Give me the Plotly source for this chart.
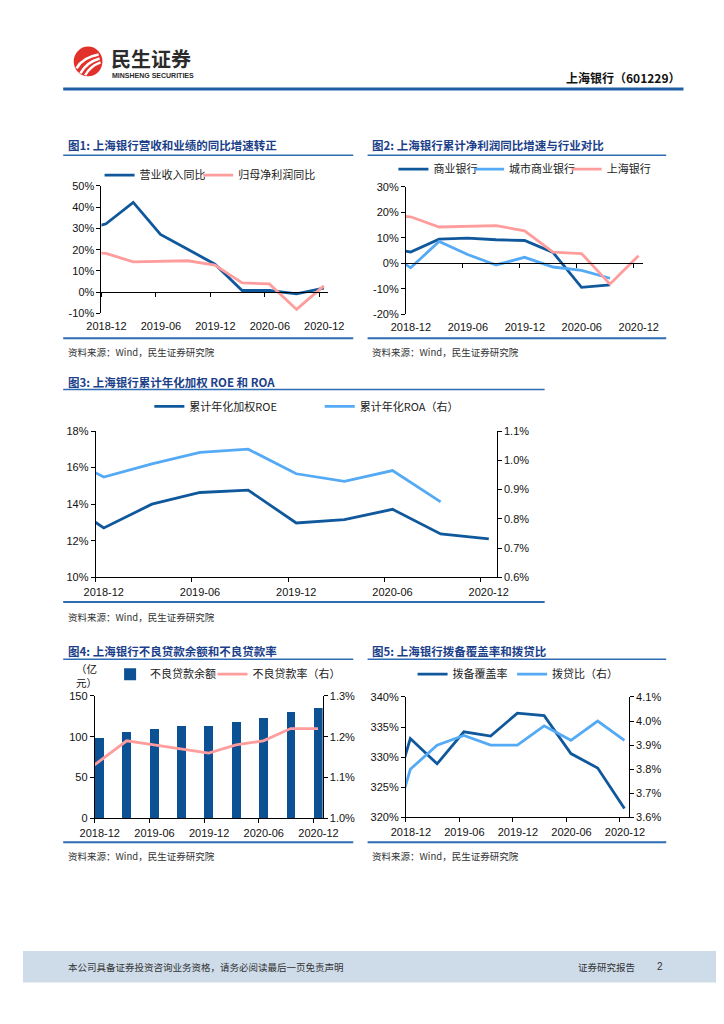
import plotly.graph_objects as go

W, H = 724, 1024
def fx(x): return x / W
def fy(y): return 1 - y / H

# ---------------- data ----------------
quarters = ["2018-09", "2018-12", "2019-03", "2019-06", "2019-09", "2019-12",
            "2020-03", "2020-06", "2020-09", "2020-12"]
tick_labels = ["2018-12", "2019-06", "2019-12", "2020-06", "2020-12"]

# 图1 (%)
rev_yoy = [28.6, 32.2, 42.3, 27.2, 20.2, 13.2, 0.8, 0.8, -0.8, 1.9]
np_yoy = [18.9, 18.3, 14.3, 14.5, 14.8, 12.8, 4.4, 3.9, -8.1, 3.0]
# 图2 (%)
cb_yoy = [6.3, 4.5, 9.5, 9.9, 9.3, 9.0, 4.3, -9.4, -8.4, None]
city_yoy = [6.1, -1.7, 8.6, 3.5, -0.6, 2.4, -1.4, -2.7, -5.8, None]
# 图3 (%)
roe = [14.5, 12.7, 14.0, 14.64, 14.77, 12.97, 13.15, 13.72, 12.37, 12.1]
roa = [1.027, 0.943, 0.988, 1.027, 1.038, 0.954, 0.928, 0.965, 0.858, None]
# 图4
npl_quarters = quarters[1:]
npl_balance = [98, 106, 110, 113, 113.5, 118, 123, 131, 135]
npl_ratio = [1.09, 1.14, 1.19, 1.18, 1.17, 1.16, 1.18, 1.19, 1.22, 1.22]
# 图5
coverage = [318.1, 333.1, 328.9, 334.2, 333.5, 337.3, 336.9, 330.6, 328.2, 321.5]
ldr = [3.42, 3.80, 3.90, 3.94, 3.90, 3.90, 3.98, 3.92, 4.00, 3.92]

# ---------------- style ----------------
DARK = "#10589C"
LIGHT = "#55AAF5"
PINK = "#FF9D9D"
TITLE = "#1C3F8A"
RULE = "#2E6CB3"
CJK = "Noto Sans CJK SC"
LAT = "Liberation Sans"
AX_FONT = dict(family=LAT, size=11, color="#111")
LW = 2.8


def month_pos(q):
    y, m = map(int, q.split("-"))
    return (y - 2018) * 12 + (m - 12) + 0.5


xq = [month_pos(q) for q in quarters]
xq_npl = [month_pos(q) for q in npl_quarters]
tick_pos = [month_pos(t) - 0.5 for t in tick_labels]


def ticks(lo, hi, step, fmt):
    n = int(round((hi - lo) / step))
    vals = [round(lo + step * i, 4) for i in range(n + 1)]
    return vals, [fmt(v) for v in vals]


def xcfg(x0, x1, anchor, line=True):
    slot = (x1 - x0) / 25
    d = dict(domain=[fx(x0), fx(x1)], range=[0, 25], anchor=anchor,
             tickmode="array", tickvals=tick_pos, ticktext=tick_labels,
             ticks="outside" if line else "", ticklen=4, tickcolor="#000",
             showline=line, linecolor="#000", linewidth=1,
             showgrid=False, zeroline=False, tickfont=AX_FONT,
             ticklabelshift=int(round(slot / 2)), fixedrange=True)
    if not line:
        d["ticklabelstandoff"] = 5
    return d


def ycfg(ytop, ybot, anchor, rng, tk, side="left", overlaying=None):
    d = dict(domain=[fy(ybot), fy(ytop)], range=rng, anchor=anchor, side=side,
             tickmode="array", tickvals=tk[0], ticktext=tk[1],
             ticks="outside", ticklen=4, tickcolor="#000",
             showline=True, linecolor="#000", linewidth=1,
             showgrid=False, zeroline=False, tickfont=AX_FONT, fixedrange=True)
    if overlaying:
        d["overlaying"] = overlaying
    return d


def zero_pos(ytop, ybot, rng):
    lo, hi = rng
    return fy(ybot) + (0 - lo) / (hi - lo) * (fy(ytop) - fy(ybot))


def leg(text_x, y):
    return dict(x=fx(text_x - 40), y=fy(y), xanchor="left", yanchor="middle",
                orientation="h", bgcolor="rgba(0,0,0,0)", borderwidth=0,
                font=dict(family=CJK, size=11, color="#222"), itemwidth=30)


pct0 = lambda v: f"{v:.0f}%"
pct1 = lambda v: f"{v:.1f}%"

# panel geometry (pixels)
P1 = dict(x0=82, x1=319, yt=174, yb=303, rng=[-10, 50])
P2 = dict(x0=400, x1=648, yt=175, yb=304, rng=[-20, 30])
P3 = dict(x0=76, x1=495, yt=422, yb=570)
P4 = dict(x0=75, x1=313, yt=690, yb=814)
P5 = dict(x0=400, x1=633, yt=691, yb=813)

fig = go.Figure()

# chart 1
fig.add_trace(go.Scatter(x=xq, y=rev_yoy, mode="lines", name="营业收入同比",
                         line=dict(color=DARK, width=LW), xaxis="x", yaxis="y", legend="legend"))
fig.add_trace(go.Scatter(x=xq, y=np_yoy, mode="lines", name="归母净利润同比",
                         line=dict(color=PINK, width=LW), xaxis="x", yaxis="y", legend="legend2"))
fig.add_trace(go.Scatter(x=[], y=[], xaxis="x6", yaxis="y", showlegend=False, hoverinfo="skip"))
# chart 2
fig.add_trace(go.Scatter(x=xq, y=cb_yoy, mode="lines", name="商业银行",
                         line=dict(color=DARK, width=LW), xaxis="x2", yaxis="y2", legend="legend3"))
fig.add_trace(go.Scatter(x=xq, y=city_yoy, mode="lines", name="城市商业银行",
                         line=dict(color=LIGHT, width=LW), xaxis="x2", yaxis="y2", legend="legend4"))
fig.add_trace(go.Scatter(x=xq, y=np_yoy, mode="lines", name="上海银行",
                         line=dict(color=PINK, width=LW), xaxis="x2", yaxis="y2", legend="legend5"))
fig.add_trace(go.Scatter(x=[], y=[], xaxis="x7", yaxis="y2", showlegend=False, hoverinfo="skip"))
# chart 3
fig.add_trace(go.Scatter(x=xq, y=roe, mode="lines", name="累计年化加权ROE",
                         line=dict(color=DARK, width=LW), xaxis="x3", yaxis="y3", legend="legend6"))
fig.add_trace(go.Scatter(x=xq, y=roa, mode="lines", name="累计年化ROA（右）",
                         line=dict(color=LIGHT, width=LW), xaxis="x3", yaxis="y4", legend="legend7"))
# chart 4
fig.add_trace(go.Bar(x=xq_npl, y=npl_balance, name="不良贷款余额", width=0.97,
                     marker=dict(color="#0C5193", line=dict(width=0)),
                     xaxis="x4", yaxis="y5", legend="legend8"))
fig.add_trace(go.Scatter(x=xq, y=npl_ratio, mode="lines", name="不良贷款率（右）",
                         line=dict(color=PINK, width=LW), xaxis="x4", yaxis="y6", legend="legend9"))
# chart 5
fig.add_trace(go.Scatter(x=xq, y=coverage, mode="lines", name="拨备覆盖率",
                         line=dict(color=DARK, width=LW), xaxis="x5", yaxis="y7", legend="legend10"))
fig.add_trace(go.Scatter(x=xq, y=ldr, mode="lines", name="拨贷比（右）",
                         line=dict(color=LIGHT, width=LW), xaxis="x5", yaxis="y8", legend="legend11"))

layout = dict(width=W, height=H, margin=dict(l=0, r=0, t=0, b=0),
              paper_bgcolor="white", plot_bgcolor="rgba(0,0,0,0)", showlegend=True,
              hovermode=False, bargap=0)

# axes chart 1
layout["xaxis"] = xcfg(P1["x0"], P1["x1"], "y", line=False)
layout["yaxis"] = ycfg(P1["yt"], P1["yb"], "x", P1["rng"], ticks(-10, 50, 10, pct0))
z1 = xcfg(P1["x0"], P1["x1"], "free")
z1.update(overlaying="x", position=zero_pos(P1["yt"], P1["yb"], P1["rng"]), showticklabels=False)
layout["xaxis6"] = z1
# chart 2
layout["xaxis2"] = xcfg(P2["x0"], P2["x1"], "y2", line=False)
layout["yaxis2"] = ycfg(P2["yt"], P2["yb"], "x2", P2["rng"], ticks(-20, 30, 10, pct0))
z2 = xcfg(P2["x0"], P2["x1"], "free")
z2.update(overlaying="x2", position=zero_pos(P2["yt"], P2["yb"], P2["rng"]), showticklabels=False)
layout["xaxis7"] = z2
# chart 3
layout["xaxis3"] = xcfg(P3["x0"], P3["x1"], "y3")
layout["yaxis3"] = ycfg(P3["yt"], P3["yb"], "x3", [10, 18], ticks(10, 18, 2, pct0))
layout["yaxis4"] = ycfg(P3["yt"], P3["yb"], "x3", [0.6, 1.1], ticks(0.6, 1.1, 0.1, pct1),
                        side="right", overlaying="y3")
# chart 4
layout["xaxis4"] = xcfg(P4["x0"], P4["x1"], "y5")
layout["yaxis5"] = ycfg(P4["yt"], P4["yb"], "x4", [0, 150], ticks(0, 150, 50, lambda v: f"{v:.0f}"))
layout["yaxis6"] = ycfg(P4["yt"], P4["yb"], "x4", [1.0, 1.3], ticks(1.0, 1.3, 0.1, pct1),
                        side="right", overlaying="y5")
# chart 5
layout["xaxis5"] = xcfg(P5["x0"], P5["x1"], "y7")
layout["yaxis7"] = ycfg(P5["yt"], P5["yb"], "x5", [320, 340], ticks(320, 340, 5, pct0))
layout["yaxis8"] = ycfg(P5["yt"], P5["yb"], "x5", [3.6, 4.1], ticks(3.6, 4.1, 0.1, pct1),
                        side="right", overlaying="y7")

# legends
leg_pos = {"legend": (120, 163), "legend2": (223, 163),
           "legend3": (427, 157), "legend4": (506, 157), "legend5": (608, 157),
           "legend6": (172, 397), "legend7": (350, 397),
           "legend8": (131, 668), "legend9": (238, 668),
           "legend10": (447, 668), "legend11": (551, 668)}
for k, (tx, ty) in leg_pos.items():
    layout[k] = leg(tx, ty)

fig.update_layout(**layout)

# ---------------- page decorations ----------------
shapes = []


def hline(x0, x1, y, color=RULE, width=1.5):
    shapes.append(dict(type="line", xref="paper", yref="paper", x0=fx(x0), x1=fx(x1),
                       y0=fy(y), y1=fy(y), line=dict(color=color, width=width)))


hline(42, 690, 76, color="#1F5DA6", width=3)
for (a, b, t, bt) in [(42, 345, 143, 328), (360, 672, 143, 328), (42, 545, 380, 595),
                      (42, 345, 653, 838), (360, 672, 653, 838)]:
    hline(a, b, t)
    hline(a, b, bt, width=2)

# footer band
shapes.append(dict(type="rect", xref="paper", yref="paper", x0=0, x1=1, y0=fy(980), y1=fy(948),
                   fillcolor="#CEDCEA", line=dict(width=0), layer="below"))
# logo
shapes.append(dict(type="circle", xref="paper", yref="paper", x0=fx(53), x1=fx(83),
                   y0=fy(63), y1=fy(33), fillcolor="#E2312A", line=dict(width=0)))


def P(x, y):
    return f"{fx(x):.5f},{fy(y):.5f}"


for (sx, sy, cx, cy, ex, ey) in [(56, 55, 62, 44, 79, 41), (60, 60, 66, 49, 80, 45),
                                 (65, 62, 70, 53, 81, 49)]:
    shapes.append(dict(type="path", xref="paper", yref="paper",
                       path=f"M{P(sx, sy)} Q{P(cx, cy)} {P(ex, ey)}",
                       line=dict(color="white", width=2.5)))

fig.update_layout(shapes=shapes)

ann = []


def text(x, y, s, size, color="#222", bold=False, family=CJK, anchor="left"):
    ann.append(dict(x=fx(x), y=fy(y), xref="paper", yref="paper", text=f"<b>{s}</b>" if bold else s,
                    showarrow=False, xanchor=anchor, yanchor="middle",
                    font=dict(family=family, size=size, color=color)))


# header
text(90, 45, "民生证券", 20, color="#2B2B2B", bold=True)
text(91, 62.5, "MINSHENG SECURITIES", 7, color="#2B2B2B", bold=True, family=LAT)
text(688, 64, "上海银行（601229）", 12, color="#111", bold=True, anchor="right")
# titles
text(45, 133, "图1: 上海银行营收和业绩的同比增速转正", 11.5, color=TITLE, bold=True)
text(363, 133, "图2: 上海银行累计净利润同比增速与行业对比", 11.5, color=TITLE, bold=True)
text(45, 372, "图3: 上海银行累计年化加权 ROE 和 ROA", 11.5, color=TITLE, bold=True)
text(45, 645, "图4: 上海银行不良贷款余额和不良贷款率", 11.5, color=TITLE, bold=True)
text(363, 645, "图5: 上海银行拨备覆盖率和拨贷比", 11.5, color=TITLE, bold=True)
# sources
for (sx, sy) in [(45, 342), (363, 342), (45, 610), (45, 852), (363, 852)]:
    text(sx, sy, "资料来源：Wind，民生证券研究院", 9.5, color="#333")
# unit label chart 4
text(79, 669, "（亿<br>元）", 10.5, color="#111", anchor="right")
# footer
text(45, 964, "本公司具备证券投资咨询业务资格，请务必阅读最后一页免责声明", 9.5, color="#333")
text(578, 964, "证券研究报告", 9.5, color="#333")
text(660, 964, "2", 10, color="#333", family=LAT)

fig.update_layout(annotations=ann)

fig.write_html("out.html")
